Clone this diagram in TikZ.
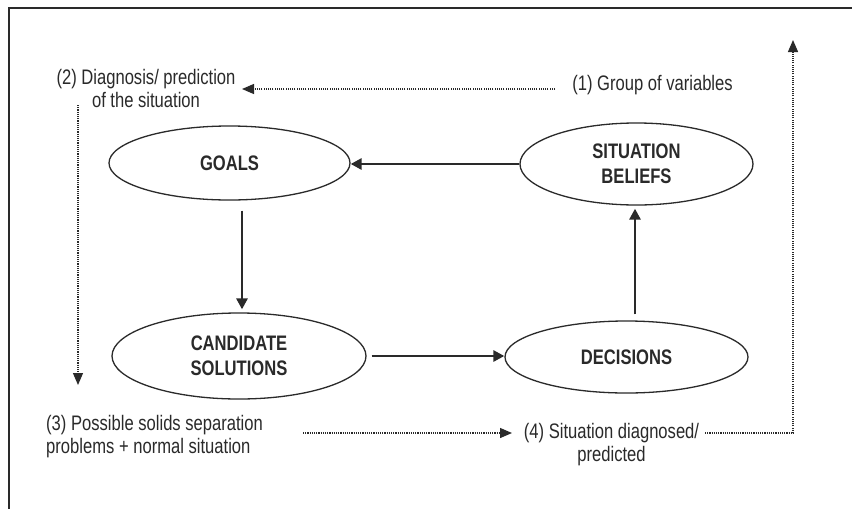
\documentclass[tikz,border=0pt]{standalone}
\usepackage{fontspec}
\setmainfont{Liberation Sans}[FakeStretch=0.79]
\usetikzlibrary{shapes.geometric,arrows.meta}
\definecolor{ink}{HTML}{2a2a2a}
\begin{document}
\begin{tikzpicture}[x=1pt,y=-1pt,
  every node/.style={text=ink},
  ell/.style={ellipse, draw=ink, line width=1.3pt, inner sep=0pt,
    font=\fontsize{21}{25}\selectfont\bfseries, align=center},
  lbl/.style={font=\fontsize{21}{23}\selectfont, inner sep=0pt},
  solidarr/.style={draw=ink, line width=2.8pt, -{Triangle[length=11pt,width=11pt]}},
  dotarr/.style={draw=ink, line width=1.3pt, dash pattern=on 1.1pt off 1.1pt,
    -{Triangle[length=12pt,width=10pt]}},
  frame/.style={draw=ink, line width=1.5pt}
]
\useasboundingbox (0,0) rectangle (852,509);
\fill[white] (0,0) rectangle (852,509);
\draw[frame] (9,509) -- (9,8) -- (852,8);

% ellipses
\node[ell, minimum width=241pt, minimum height=74pt] (goals) at (229.5,163) {GOALS};
\node[ell, minimum width=233pt, minimum height=82pt] (sb) at (636.5,164) {SITUATION\\BELIEFS};
\node[ell, minimum width=254pt, minimum height=86pt] (cand) at (239,356) {CANDIDATE\\SOLUTIONS};
\node[ell, minimum width=243pt, minimum height=72pt] (dec) at (626.5,357) {DECISIONS};

% solid arrows
\draw[solidarr] (sb.west) -- (sb.west -| goals.east);
\draw[solidarr, shorten <=10pt, shorten >=3pt] ([xshift=12.5pt]goals.south) -- ([xshift=3pt]cand.north);
\draw[solidarr, shorten <=5pt] (cand.east) -- (cand.east -| dec.west);
\draw[solidarr, shorten <=6pt, shorten >=3pt] ([xshift=8.5pt]dec.north) -- ([xshift=-1.5pt]sb.south);

% labels
\node[lbl, align=center] (t2) at (146,88.5) {(2) Diagnosis/ prediction\\of the situation};
\node[lbl] (t1) at (652.5,85) {(1) Group of variables};
\node[lbl, align=left, anchor=west] (t3) at (46,436.5) {(3) Possible solids separation\\problems + normal situation};
\node[lbl, align=center] (t4) at (611.5,445) {(4) Situation diagnosed/\\predicted};

% dotted flow
\coordinate (d1s) at (555,89);
\coordinate (d1e) at (242,89);
\coordinate (d2s) at (78,105);
\coordinate (d2e) at (78,385);
\coordinate (d3s) at (303,433);
\coordinate (d3e) at (512,433);
\coordinate (d4s) at (705,433);
\coordinate (d4e) at (793,40);
\draw[dotarr] (d1s) -- (d1e);
\draw[dotarr] (d2s) -- (d2e);
\draw[dotarr] (d3s) -- (d3e);
\draw[dotarr] (d4s) -| (d4e);
\end{tikzpicture}
\end{document}
